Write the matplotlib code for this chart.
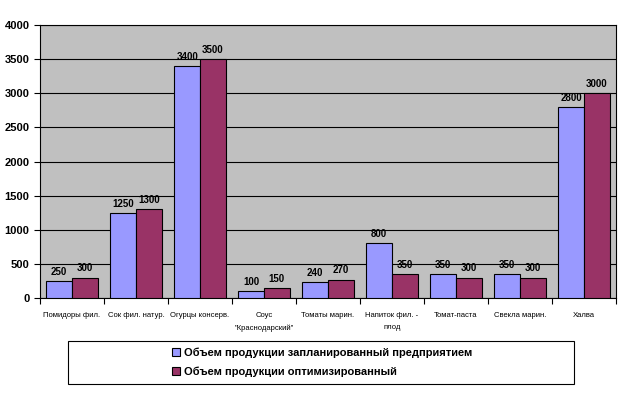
import numpy as np
import matplotlib.pyplot as plt
from matplotlib.patches import Rectangle

categories = ["Помидоры фил.", "Сок фил. натур.", "Огурцы консерв.", "Соус\n\"Краснодарский\"",
              "Томаты марин.", "Напиток фил. -\nплод", "Томат-паста", "Свекла марин.", "Халва"]
planned = [250, 1250, 3400, 100, 240, 800, 350, 350, 2800]
optimized = [300, 1300, 3500, 150, 270, 350, 300, 300, 3000]
series_names = ["Объем продукции запланированный предприятием", "Объем продукции оптимизированный"]

plt.rcParams['font.family'] = ['Liberation Sans', 'DejaVu Sans']

fig = plt.figure(figsize=(6.31, 3.95), dpi=100)
ax = fig.add_axes([40/631, 1-298/395, 576/631, 273/395])
ax.set_facecolor('#C0C0C0')

x = np.arange(len(categories))
w = 0.4
b1 = ax.bar(x - w/2, planned, w, color='#9999FF', edgecolor='black', linewidth=0.8, zorder=3, label=series_names[0])
b2 = ax.bar(x + w/2, optimized, w, color='#993366', edgecolor='black', linewidth=0.8, zorder=3, label=series_names[1])
for bars, vals in ((b1, planned), (b2, optimized)):
    for r, v in zip(bars, vals):
        ax.text(r.get_x() + r.get_width()/2, v + 60, str(v), ha='center', va='bottom',
                fontsize=7, fontweight='bold')

ax.set_xlim(-0.5, len(categories) - 0.5)
ax.set_ylim(0, 4000)
ax.set_yticks(np.arange(0, 4001, 500))
ax.yaxis.grid(True, color='black', linewidth=0.8, zorder=0)
ax.set_xticks(np.arange(len(categories) + 1) - 0.5, minor=False)
ax.set_xticklabels([])
ax.set_xticks(x, minor=True)
ax.set_xticklabels(categories, minor=True, fontsize=5.5, linespacing=2.0, va='top')
ax.tick_params(axis='x', which='minor', length=0, pad=10)
ax.tick_params(axis='x', which='major', length=4, direction='out')
ax.tick_params(axis='y', labelsize=8, length=4)
for t in ax.get_yticklabels():
    t.set_fontweight('bold')
for s in ax.spines.values():
    s.set_color('black')
    s.set_linewidth(0.8)

# legend frame
fig.patches.append(Rectangle((68/631, 1-384/395), 506/631, 43/395, transform=fig.transFigure,
                             facecolor='white', edgecolor='black', linewidth=0.8))
h, l = ax.get_legend_handles_labels()
leg = fig.legend(h, l, loc='center', bbox_to_anchor=(322/631, 1-362/395), fontsize=8,
                 frameon=False, handlelength=0.7, handleheight=0.7, handletextpad=0.4,
                 labelspacing=0.8, borderaxespad=0)
for t in leg.get_texts():
    t.set_fontweight('bold')

fig.savefig('out.png', dpi=100, facecolor='white')
